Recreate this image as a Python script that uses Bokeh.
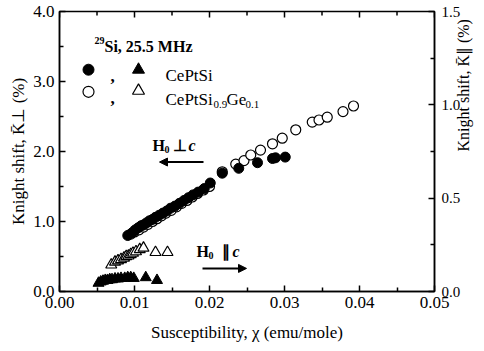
import math
from bokeh.plotting import figure
from bokeh.models import (Label, Arrow, NormalHead, LinearAxis, Range1d,
                          FixedTicker, NumeralTickFormatter)
from bokeh.embed import file_html
from bokeh.resources import INLINE

# ---- data ----
# CePtSi, H0 perp c (left axis, %)
cpt_perp_x = [0.0091, 0.0097, 0.0101, 0.0105, 0.0109, 0.0112, 0.0116, 0.0120,
              0.0124, 0.0128, 0.0133, 0.0138, 0.0143, 0.0148, 0.0154, 0.0160,
              0.0166, 0.0172, 0.0178, 0.0185, 0.0193, 0.0201, 0.0217, 0.0239,
              0.0264, 0.0284, 0.0288, 0.0301]
cpt_perp_y = [0.80, 0.84, 0.88, 0.91, 0.94, 0.95, 0.98, 1.01,
              1.03, 1.06, 1.09, 1.12, 1.15, 1.19, 1.22, 1.26,
              1.30, 1.34, 1.38, 1.42, 1.47, 1.55, 1.69, 1.76,
              1.84, 1.90, 1.91, 1.92]
# CePtSi0.9Ge0.1, H0 perp c (left axis, %)
ge_perp_x = [0.0095, 0.0100, 0.0106, 0.0112, 0.0118, 0.0124, 0.0130, 0.0136,
             0.0142, 0.0149, 0.0156, 0.0163, 0.0170, 0.0177, 0.0184, 0.0192,
             0.0200, 0.0217, 0.0235, 0.0246, 0.0255, 0.0268, 0.0284, 0.0297,
             0.0315, 0.0337, 0.0346, 0.0357, 0.0378, 0.0392]
ge_perp_y = [0.82, 0.85, 0.88, 0.92, 0.96, 1.00, 1.04, 1.08,
             1.12, 1.16, 1.21, 1.26, 1.30, 1.35, 1.40, 1.45,
             1.50, 1.71, 1.82, 1.87, 1.95, 2.02, 2.11, 2.19,
             2.31, 2.42, 2.45, 2.49, 2.57, 2.65]
# CePtSi, H0 par c (right axis, %)
cpt_par_x = [0.0052, 0.0055, 0.0058, 0.0061, 0.0064, 0.0067, 0.0070, 0.0074,
             0.0078, 0.0082, 0.0087, 0.0091, 0.0095, 0.0099, 0.0115, 0.0130]
cpt_par_y = [0.045, 0.052, 0.056, 0.060, 0.060, 0.064, 0.064, 0.068,
             0.068, 0.071, 0.071, 0.075, 0.075, 0.071, 0.075, 0.060]
# CePtSi0.9Ge0.1, H0 par c (right axis, %)
ge_par_x = [0.0069, 0.0074, 0.0078, 0.0082, 0.0086, 0.0089, 0.0092, 0.0095,
            0.0098, 0.0102, 0.0107, 0.0112, 0.0128, 0.0144]
ge_par_y = [0.143, 0.158, 0.165, 0.172, 0.180, 0.188, 0.191, 0.199,
            0.206, 0.214, 0.225, 0.233, 0.210, 0.210]

x_ticks = [0.0, 0.01, 0.02, 0.03, 0.04, 0.05]
x_minor = [0.005, 0.015, 0.025, 0.035, 0.045]
yl_ticks = [0.0, 1.0, 2.0, 3.0, 4.0]
yl_minor = [0.5, 1.5, 2.5, 3.5]
yr_ticks = [0.0, 0.5, 1.0, 1.5]
yr_minor = [0.25, 0.75, 1.25]

FONT = "Liberation Serif, Times New Roman, serif"

p = figure(width=484, height=351, x_range=Range1d(0, 0.05), y_range=Range1d(0, 4.0),
           output_backend="svg", toolbar_location=None,
           min_border_left=59, min_border_right=50, min_border_top=11,
           min_border_bottom=60)
p.extra_y_ranges = {"right": Range1d(0, 1.5)}
p.xgrid.visible = False
p.ygrid.visible = False
p.outline_line_color = "black"
p.outline_line_width = 1.5
p.background_fill_color = "white"
p.border_fill_color = "white"


def style(ax, ticks, minor, fmt):
    ax.ticker = FixedTicker(ticks=ticks, minor_ticks=minor)
    ax.formatter = NumeralTickFormatter(format=fmt)
    ax.major_tick_in = 6
    ax.major_tick_out = 0
    ax.minor_tick_in = 4
    ax.minor_tick_out = 0
    ax.major_tick_line_width = 1.5
    ax.minor_tick_line_width = 1.5
    ax.axis_line_width = 1.5
    ax.major_label_text_font = FONT
    ax.major_label_text_font_size = "17px"
    ax.major_label_text_color = "black"
    ax.axis_label_text_font = FONT
    ax.axis_label_text_font_size = "17px"
    ax.axis_label_text_font_style = "normal"
    ax.axis_label_text_color = "black"


xa = p.xaxis[0]
style(xa, x_ticks, x_minor, "0.00")
xa.axis_label = "Susceptibility, \u03c7 (emu/mole)"
xa.major_label_standoff = 5
xa.axis_label_standoff = 12

ya = p.yaxis[0]
style(ya, yl_ticks, yl_minor, "0.0")
ya.axis_label = "Knight shift, K\u0304\u22a5 (%)"
ya.major_label_standoff = 5
ya.axis_label_standoff = 2

ra = LinearAxis(y_range_name="right")
style(ra, yr_ticks, yr_minor, "0.0")
ra.major_label_text_font_size = "15px"
ra.axis_label_text_font_size = "16px"
ra.axis_label = "Knight shift, K\u0304\u2225 (%)"
ra.axis_label_orientation = math.pi / 2
ra.major_label_standoff = 7
ra.axis_label_standoff = 0
p.add_layout(ra, "right")

# ---- data marks ----
p.scatter(ge_perp_x, ge_perp_y, marker="circle", size=10, fill_color="white",
          line_color="black", line_width=1.2)
p.scatter(cpt_perp_x, cpt_perp_y, marker="circle", size=10, fill_color="black",
          line_color="black")
p.scatter(ge_par_x, ge_par_y, y_range_name="right", marker="triangle", size=11,
          fill_color="white", line_color="black", line_width=1.2)
p.scatter(cpt_par_x, cpt_par_y, y_range_name="right", marker="triangle", size=11,
          fill_color="black", line_color="black")


# ---- annotations (positions given in pixels, converted to data) ----
def dx(px):
    return (px - 59) / 7500.0


def dy(py):
    return (291 - py) / 69.75


# top-edge ticks (inward), following the x tick arrays
p.segment(x0=x_ticks, y0=[4.0] * len(x_ticks), x1=x_ticks,
          y1=[4.0 - 6 / 69.75] * len(x_ticks), line_color="black", line_width=1.5)
p.segment(x0=x_minor, y0=[4.0] * len(x_minor), x1=x_minor,
          y1=[4.0 - 4 / 69.75] * len(x_minor), line_color="black", line_width=1.5)


def lab(text, px, py, size="15px", style="bold"):
    p.add_layout(Label(x=dx(px), y=dy(py), text=text, text_font=FONT,
                       text_font_size=size, text_font_style=style,
                       text_color="black", text_baseline="alphabetic",
                       text_align="left"))


lab("29", 94, 41, "10px")
lab("Si, 25.5 MHz", 104, 47, "16px")

# legend keys
p.scatter([dx(88)], [dy(70)], marker="circle", size=11, fill_color="black", line_color="black")
p.scatter([dx(138)], [dy(70)], marker="triangle", size=12, fill_color="black", line_color="black")
p.scatter([dx(88)], [dy(92)], marker="circle", size=11, fill_color="white", line_color="black", line_width=1.2)
p.scatter([dx(138)], [dy(91)], marker="triangle", size=12, fill_color="white", line_color="black", line_width=1.2)
lab(",", 110, 77, "17px")
lab(",", 110, 99, "17px")
lab("CePtSi", 165, 76, "17px", "normal")
lab("CePtSi", 165, 100, "17px", "normal")
lab("0.9", 213, 105, "11px", "normal")
lab("Ge", 226, 100, "17px", "normal")
lab("0.1", 245, 105, "11px", "normal")

# field orientation labels
lab("H", 152, 146, "16px")
lab("0", 164, 150, "10px")
lab("\u22a5", 172, 146, "16px")
lab("c", 188, 146, "16px", "bold italic")
p.add_layout(Arrow(end=NormalHead(size=8, fill_color="black", line_color="black"),
                   x_start=dx(203), y_start=dy(162), x_end=dx(159), y_end=dy(162),
                   line_width=2, line_color="black"))

lab("H", 196, 251, "16px")
lab("0", 208, 255, "10px")
lab("\u2225", 221, 251, "16px")
lab("c", 232, 251, "16px", "bold italic")
p.add_layout(Arrow(end=NormalHead(size=8, fill_color="black", line_color="black"),
                   x_start=dx(202), y_start=dy(268), x_end=dx(246), y_end=dy(268),
                   line_width=2, line_color="black"))

open("out.html", "w").write(file_html(p, INLINE))
